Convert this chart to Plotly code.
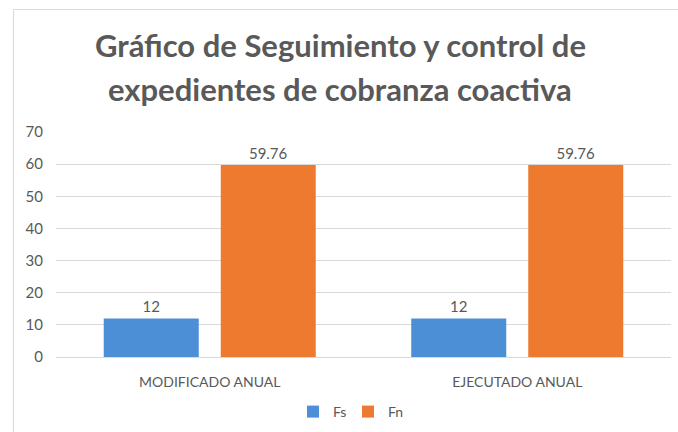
import plotly.graph_objects as go

categories = ["MODIFICADO ANUAL", "EJECUTADO ANUAL"]
fs_values = [12, 12]
fn_values = [59.76, 59.76]
fs_labels = ["12", "12"]
fn_labels = ["59.76", "59.76"]
y_ticks = [0, 10, 20, 30, 40, 50, 60, 70]
title_lines = ["Gráfico de Seguimiento y control de", "expedientes de cobranza coactiva"]

FONT = "Lato"
GRAY = "#595959"

fig = go.Figure()
fig.add_trace(go.Bar(
    name="Fs", x=categories, y=fs_values, text=fs_labels,
    textposition="outside", cliponaxis=False,
    textfont=dict(family=FONT, size=15, color=GRAY),
    marker=dict(color="#4d8fd6", line=dict(width=0)),
))
fig.add_trace(go.Bar(
    name="Fn", x=categories, y=fn_values, text=fn_labels,
    textposition="outside", cliponaxis=False,
    textfont=dict(family=FONT, size=15, color=GRAY),
    marker=dict(color="#ee7a2f", line=dict(width=0)),
))

L, R, T, B = 56, 7, 132, 75
W, H = 678, 432
pw, ph = W - L - R, H - T - B

def px_to_paper_x(px):
    return (px - L) / pw

def px_to_paper_y(py):
    return (H - B - py) / ph

annotations = [
    dict(
        text="<b>" + line + "</b>",
        font=dict(family=FONT, size=31, color=GRAY),
        xref="paper", yref="paper", showarrow=False,
        x=px_to_paper_x(340), xanchor="center",
        y=px_to_paper_y(cy), yanchor="middle",
    )
    for line, cy in zip(title_lines, [45, 89])
]

fig.update_layout(
    width=W, height=H,
    margin=dict(l=L, r=R, t=T, b=B, autoexpand=False),
    paper_bgcolor="white", plot_bgcolor="white",
    barmode="group", bargap=0.239, bargroupgap=0.188,
    font=dict(family=FONT, color=GRAY),
    showlegend=True,
    legend=dict(
        orientation="h", x=px_to_paper_x(348), xanchor="center",
        y=px_to_paper_y(412), yanchor="middle",
        font=dict(family=FONT, size=14, color=GRAY),
        itemwidth=30, traceorder="normal",
        entrywidth=10, entrywidthmode="pixels",
    ),
    xaxis=dict(
        showgrid=False, showline=True, linecolor="#d9d9d9", linewidth=1,
        ticks="", tickfont=dict(family=FONT, size=14, color=GRAY),
        ticklabelstandoff=12,
    ),
    yaxis=dict(
        range=[0, 70], tickvals=y_ticks, showgrid=True, gridcolor="#d9d9d9",
        gridwidth=1, zeroline=False, showline=False, ticks="",
        tickfont=dict(family=FONT, size=15, color=GRAY), ticklabelstandoff=12,
    ),
    annotations=annotations,
    shapes=[dict(
        type="rect", xref="paper", yref="paper",
        x0=px_to_paper_x(13.5), x1=px_to_paper_x(700),
        y0=px_to_paper_y(460), y1=px_to_paper_y(9.5),
        line=dict(color="#d9d9d9", width=1), fillcolor="rgba(0,0,0,0)",
        layer="below",
    )],
)

fig.write_html(
    "out.html",
    config={"displayModeBar": False},
    post_script="document.body.style.margin='0';document.body.style.overflow='hidden';",
)
